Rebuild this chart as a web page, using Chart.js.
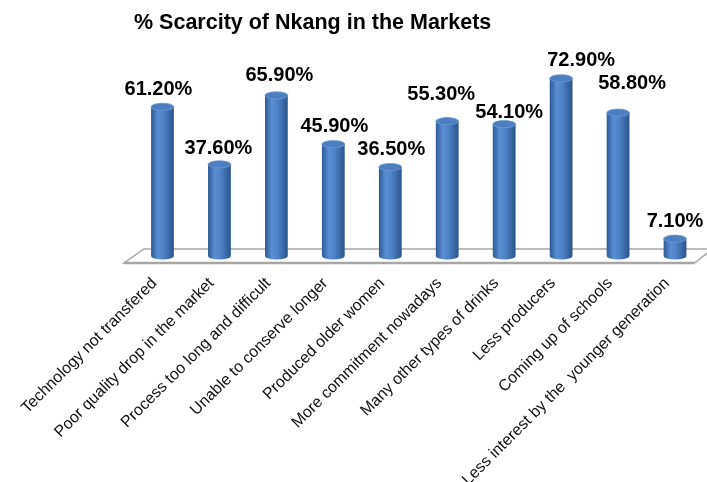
<!DOCTYPE html>
<html>
<head>
<meta charset="utf-8">
<title>% Scarcity of Nkang in the Markets</title>
<script src="https://cdn.jsdelivr.net/npm/chart.js@4.4.1/dist/chart.umd.min.js"></script>
<style>
  html, body { margin: 0; padding: 0; background: #ffffff; }
  #wrap { width: 707px; height: 482px; }
</style>
</head>
<body>
<div id="wrap"><canvas id="chart" width="707" height="482"></canvas></div>
<script>
// Reasons given for Nkang becoming scarce in the markets
const categories = [
  'Technology not transfered',
  'Poor quality drop in the market',
  'Process too long and difficult',
  'Unable to conserve longer',
  'Produced older women',
  'More commitment nowadays',
  'Many other types of drinks',
  'Less producers',
  'Coming up of schools',
  'Less interest by the  younger generation'
];

// Share of respondents (%)
const scarcityPct = [61.2, 37.6, 65.9, 45.9, 36.5, 55.3, 54.1, 72.9, 58.8, 7.1];

const chartTitle = '% Scarcity of Nkang in the Markets';
const FONT = '"Liberation Sans", Arial, Helvetica, sans-serif';

// Small hand nudges [dx, dy] so the value labels do not collide
const labelNudge = [[-4, 0], [-1, 2], [3, -2], [1, 0], [1, 0], [-6, -9], [5, 6], [20, 0], [14, -12], [0, 0]];

// Floor slab under the cylinders
const floorPlugin = {
  id: 'floor',
  beforeDatasetsDraw(chart) {
    const { ctx, chartArea } = chart;
    const base = chart.scales.y.getPixelForValue(0);
    const dx = 10, dy = 7;
    const fl = chartArea.left - dx, fr = chartArea.right - 9;
    const bl = chartArea.left + dx, br = chartArea.right + 9;
    ctx.save();
    ctx.beginPath();
    ctx.moveTo(fl, base + dy);
    ctx.lineTo(fr, base + dy);
    ctx.lineTo(br, base - dy);
    ctx.lineTo(bl, base - dy);
    ctx.closePath();
    ctx.fillStyle = '#ffffff';
    ctx.fill();
    ctx.strokeStyle = '#a6a6a6';
    ctx.lineWidth = 1.5;
    ctx.stroke();
    ctx.beginPath();
    ctx.moveTo(fl, base + dy);
    ctx.lineTo(fr, base + dy);
    ctx.lineWidth = 2.5;
    ctx.stroke();
    ctx.restore();
  }
};

// Cylinder bodies, caps and value labels drawn on the bar elements
const cylinderPlugin = {
  id: 'cylinders',
  afterDatasetsDraw(chart) {
    const { ctx } = chart;
    const meta = chart.getDatasetMeta(0);
    ctx.save();
    meta.data.forEach((bar, i) => {
      const { x, y, base, width } = bar.getProps(['x', 'y', 'base', 'width'], true);
      const rx = width / 2, ry = 3.6;

      const g = ctx.createLinearGradient(x - rx, 0, x + rx, 0);
      g.addColorStop(0, '#2d5a95');
      g.addColorStop(0.3, '#5a8ed2');
      g.addColorStop(0.55, '#4f83c6');
      g.addColorStop(1, '#2a548c');
      ctx.fillStyle = g;
      ctx.beginPath();
      ctx.moveTo(x - rx, y);
      ctx.lineTo(x - rx, base);
      ctx.ellipse(x, base, rx, ry, 0, Math.PI, 0, true);
      ctx.lineTo(x + rx, y);
      ctx.closePath();
      ctx.fill();

      ctx.beginPath();
      ctx.ellipse(x, y, rx, ry, 0, 0, Math.PI * 2);
      ctx.fillStyle = '#4c7ec0';
      ctx.fill();
      ctx.strokeStyle = '#6a9ad6';
      ctx.lineWidth = 0.8;
      ctx.stroke();

      const [ndx, ndy] = labelNudge[i];
      ctx.fillStyle = '#000000';
      ctx.font = 'bold 20px ' + FONT;
      ctx.textAlign = 'center';
      ctx.textBaseline = 'alphabetic';
      ctx.fillText(scarcityPct[i].toFixed(2) + '%', x + ndx, y - 12 + ndy);
    });
    ctx.restore();
  }
};

new Chart(document.getElementById('chart'), {
  type: 'bar',
  data: {
    labels: categories,
    datasets: [{
      label: '% Scarcity',
      data: scarcityPct,
      backgroundColor: 'rgba(0,0,0,0)',
      borderWidth: 0,
      categoryPercentage: 1,
      barPercentage: 0.4
    }]
  },
  options: {
    responsive: false,
    animation: false,
    devicePixelRatio: 1,
    layout: { padding: { left: 134, right: 3.5, top: 0, bottom: 0 } },
    plugins: {
      legend: { display: false },
      tooltip: { enabled: false },
      title: {
        display: true,
        text: chartTitle,
        align: 'start',
        color: '#000000',
        font: { family: FONT, size: 21.5, weight: 'bold' },
        padding: { top: 10, bottom: 25.2 }
      }
    },
    scales: {
      x: {
        grid: { display: false, drawTicks: false },
        border: { display: false },
        ticks: {
          autoSkip: false,
          minRotation: 45,
          maxRotation: 45,
          padding: 18,
          labelOffset: -8,
          color: '#111111',
          font: { family: FONT, size: 16 }
        },
        afterFit(scale) { scale.height = 226; }
      },
      y: { display: false, min: 0, max: 80 }
    }
  },
  plugins: [floorPlugin, cylinderPlugin]
});
</script>
</body>
</html>
